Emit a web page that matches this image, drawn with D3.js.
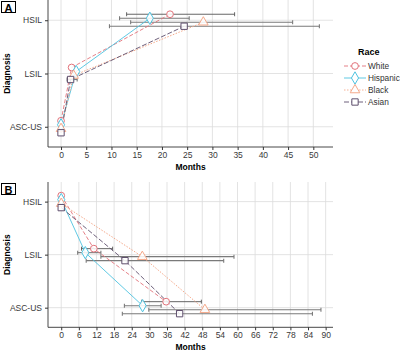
<!DOCTYPE html>
<html><head><meta charset="utf-8">
<script src="https://cdn.jsdelivr.net/npm/d3@7"></script>
<style>
body{margin:0;background:#fff;}
text{font-family:"Liberation Sans",Arial,sans-serif;}
</style></head>
<body><svg id="c" width="400" height="355"></svg>
<script>
const categories = ["ASC-US","LSIL","HSIL"];
const races = ["White","Hispanic","Black","Asian"];
const colors = ["#e2737b","#4ec3e0","#f5a98a","#5f4f6d"];
const dashes = ["4,2", null, "1.5,1.5", "5,2"];
const shapes = [d3.symbolCircle, d3.symbolDiamond, d3.symbolTriangle, d3.symbolSquare];
const dodge = [-6,-2,2,6];

// Panel A: progression, months at [ASC-US, LSIL, HSIL]
const stagesA = ["ASC-US","LSIL","HSIL"];
const monthsA = {White:[0,2.1,21.6], Hispanic:[0,3.0,17.6], Black:[0,2.5,28.2], Asian:[0,1.9,24.4]};
const lowA = {White:[null,null,13.0], Hispanic:[null,null,11.6], Black:[null,null,13.8], Asian:[null,1.2,9.6]};
const highA = {White:[null,null,34.4], Hispanic:[null,null,25.4], Black:[null,null,45.9], Asian:[null,3.2,51.2]};
const ticksA = [0,5,10,15,20,25,30,35,40,45,50];

// Panel B: regression, months at [HSIL, LSIL, ASC-US]
const stagesB = ["HSIL","LSIL","ASC-US"];
const monthsB = {White:[0,11.1,35.7], Hispanic:[0,8.2,27.7], Black:[0,27.6,48.9], Asian:[0,21.7,40.3]};
const lowB = {White:[null,6.9,27.4], Hispanic:[null,5.6,21.5], Black:[null,13.5,29.8], Asian:[null,8.5,20.8]};
const highB = {White:[null,17.5,47.7], Hispanic:[null,13.5,34.0], Black:[null,58.8,88.4], Asian:[null,55.3,85.5]};
const ticksB = [0,6,12,18,24,30,36,42,48,54,60,66,72,78,84,90];

const svg = d3.select("#c");

function panel(cfg){
  const g = svg.append("g");
  const x = d3.scaleLinear().domain(cfg.xdom).range([48,333]);
  const y = d3.scalePoint().domain(categories).range([cfg.bottom, cfg.top]).padding(cfg.pad);
  // grid
  g.selectAll(".vg").data(cfg.ticks).enter().append("line")
    .attr("x1",d=>x(d)).attr("x2",d=>x(d)).attr("y1",cfg.top).attr("y2",cfg.bottom)
    .attr("stroke","#dcdcdc").attr("stroke-width",0.8);
  g.selectAll(".hg").data(categories).enter().append("line")
    .attr("x1",48).attr("x2",333).attr("y1",d=>y(d)).attr("y2",d=>y(d))
    .attr("stroke","#dcdcdc").attr("stroke-width",0.8);
  // axes
  const xa = g.append("g").attr("transform",`translate(0,${cfg.bottom})`)
    .call(d3.axisBottom(x).tickValues(cfg.ticks).tickSize(3).tickPadding(2));
  const ya = g.append("g").attr("transform","translate(48,0)")
    .call(d3.axisLeft(y).tickSize(3).tickPadding(3));
  [xa,ya].forEach(a=>{
    a.select(".domain").attr("stroke","#333").attr("stroke-width",0.9);
    a.selectAll(".tick line").attr("stroke","#333");
    a.selectAll(".tick text").attr("font-size",8.5).attr("fill","#3a3a3a").style("fill","#3a3a3a")
      .attr("font-family","'Liberation Sans',Arial,sans-serif");
  });
  xa.select(".domain").attr("d",`M48,0H333`);
  ya.select(".domain").attr("d",`M0,${cfg.top}V${cfg.bottom}`);
  // titles
  g.append("text").attr("x",190.5).attr("y",cfg.bottom+23).attr("text-anchor","middle")
    .attr("font-size",8.5).attr("font-weight","bold").text("Months");
  g.append("text").attr("transform",`translate(10,${(cfg.top+cfg.bottom)/2}) rotate(-90)`)
    .attr("text-anchor","middle").attr("font-size",8.5).attr("font-weight","bold").text("Diagnosis");
  // panel label
  g.append("rect").attr("x",1.5).attr("y",cfg.top+1.5).attr("width",14).attr("height",11)
    .attr("fill","#fff").attr("stroke","#000").attr("stroke-width",1);
  g.append("text").attr("x",8.5).attr("y",cfg.top+11.5).attr("text-anchor","middle")
    .attr("font-size",11).attr("font-weight","bold").text(cfg.label);
  // error bars
  races.forEach((r,i)=>{
    cfg.stages.forEach((s,k)=>{
      const lo = cfg.low[r][k], hi = cfg.high[r][k];
      if(lo==null) return;
      const yy = y(s)+dodge[i];
      const eb = g.append("g").attr("stroke", i===0?"#555":"#7a7a7a").attr("stroke-width", i===0?0.9:1.1);
      eb.append("line").attr("x1",x(lo)).attr("x2",x(hi)).attr("y1",yy).attr("y2",yy);
      eb.append("line").attr("x1",x(lo)).attr("x2",x(lo)).attr("y1",yy-2).attr("y2",yy+2);
      eb.append("line").attr("x1",x(hi)).attr("x2",x(hi)).attr("y1",yy-2).attr("y2",yy+2);
    });
  });
  // lines
  races.forEach((r,i)=>{
    const pts = cfg.stages.map((s,k)=>[x(cfg.months[r][k]), y(s)+dodge[i]]);
    g.append("path").attr("d",d3.line()(pts)).attr("fill","none")
      .attr("stroke",colors[i]).attr("stroke-width",i===2?1:0.9)
      .attr("stroke-dasharray",dashes[i]);
  });
  // markers
  const sizes=[36,44,40,40];
  races.forEach((r,i)=>{
    cfg.stages.forEach((s,k)=>{
      g.append("path").attr("d",d3.symbol(shapes[i],sizes[i])())
        .attr("transform",`translate(${x(cfg.months[r][k])},${y(s)+dodge[i]})`)
        .attr("fill","#fff").attr("fill-opacity",0.85).attr("stroke",colors[i]).attr("stroke-width",1);
    });
  });
}

panel({xdom:[-2.58,53.9], ticks:ticksA, top:0, bottom:147, pad:0.38, stages:stagesA,
  months:monthsA, low:lowA, high:highA, label:"A"});
panel({xdom:[-4.5,92.5], ticks:ticksB, top:182, bottom:327.3, pad:0.37, stages:stagesB,
  months:monthsB, low:lowB, high:highB, label:"B"});

// legend
const lg = svg.append("g");
lg.append("text").attr("x",358).attr("y",55).attr("font-size",9).attr("font-weight","bold").text("Race");
races.forEach((r,i)=>{
  const yy = 66+i*12;
  lg.append("line").attr("x1",344).attr("x2",366).attr("y1",yy).attr("y2",yy)
    .attr("stroke",colors[i]).attr("stroke-width",0.9).attr("stroke-dasharray",dashes[i]);
  lg.append("path").attr("d",d3.symbol(shapes[i],[36,44,40,40][i])())
    .attr("transform",`translate(355,${yy})`).attr("fill","#fff").attr("stroke",colors[i]).attr("stroke-width",1);
  lg.append("text").attr("x",368).attr("y",yy+3).attr("font-size",8.3).attr("fill","#333").text(r);
});
</script></body></html>
